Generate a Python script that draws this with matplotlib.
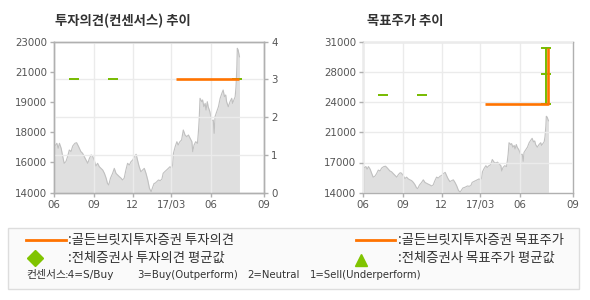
import matplotlib
matplotlib.use('Agg')
import matplotlib.pyplot as plt
import numpy as np
import pandas as pd
from matplotlib.lines import Line2D
from matplotlib.patches import Rectangle

plt.rcParams['font.family'] = ['Noto Sans CJK KR', 'DejaVu Sans']

# ---------------- data ----------------
start_date = '2016-06-01'
# days after start_date
price_days = [
    0, 6, 9, 12, 16, 19, 23, 27, 31, 35, 39, 43, 48, 52, 56, 62, 66, 70, 74, 78,
    82, 86, 89, 93, 97, 101, 105, 109, 113, 117, 121, 124, 127, 131, 136, 140, 144, 148,
    152, 156, 159, 163, 167, 171, 175, 179, 183, 187, 191, 195, 198, 202, 206, 210, 214,
    218, 222, 226, 230, 233, 235, 239, 243, 247, 251, 254, 258, 262, 266, 270, 274, 276,
    278, 282, 286, 289, 293, 297, 301, 305, 309, 313, 317, 321, 323, 326, 330, 334, 336,
    338, 340, 344, 346, 349, 352, 354, 357, 359, 363, 367, 371, 373, 375, 379, 383, 387,
    391, 394, 397, 400, 402, 406, 410, 414, 416, 419, 422, 424, 426, 427, 429, 432,
]
price_values = [
    16742, 16944, 16646, 16944, 16646, 16247, 15752, 15850, 16146, 16545, 16450, 16783,
    16944, 16980, 16783, 16450, 16350, 16146, 15950, 15752, 16050, 16247, 16200, 15950,
    15591, 15752, 15550, 15450, 15350, 15150, 14860, 14560, 14460, 14860, 15150, 15450,
    15150, 15050, 14950, 14860, 14760, 14860, 15350, 15752, 15650, 15850, 15950, 16146,
    16290, 15850, 15550, 15250, 15350, 15450, 15150, 14760, 14260, 14060, 14360, 14560,
    14560, 14655, 14757, 14720, 14800, 15157, 15260, 15353, 15450, 15550, 15450, 15650,
    16348, 16742, 17040, 16840, 17040, 17140, 17737, 17440, 17340, 17440, 17240, 17040,
    16444, 16840, 17040, 16940, 17540, 18333, 19626, 19424, 19528, 19126, 19325, 18929,
    19424, 19126, 18829, 18300, 18330, 17540, 18530, 18829, 19126, 19626, 19924, 20121,
    19725, 19825, 19424, 19126, 19424, 19626, 19325, 19528, 19722, 20318, 21510, 22607,
    22505, 22100,
]

# Golden Bridge investment opinion (right axis 0-4)
opinion_dates = ['2017-03-11', '2017-08-05']
opinion_values = [3, 3]
# all-broker average opinion
avg_opinion_dates = ['2016-07-18', '2016-10-16', '2017-08-01']
avg_opinion_values = [3, 3, 3]

# Golden Bridge target price
target_dates = ['2017-03-11', '2017-08-05', '2017-08-05']
target_values = [24000, 24000, 30300]
# all-broker average target price
avg_target_dates = ['2016-07-18', '2016-10-16']
avg_target_values = [25000, 25000]
avg_target_end_dates = ['2017-08-01', '2017-08-01', '2017-08-01']
avg_target_end_values = [24000, 27400, 30300]

x_tick_dates = ['2016-06-01', '2016-09-01', '2016-12-01', '2017-03-01', '2017-06-01', '2017-10-04']
x_tick_labels = ['06', '09', '12', '17/03', '06', '09']
x_range = ['2016-06-01', '2017-10-04']

left_price_labels = ['14000', '16000', '18000', '19000', '21000', '23000']
left_price_range = [14000, 23000]
opinion_ticks = [0, 1, 2, 3, 4]
right_price_labels = ['14000', '17000', '21000', '24000', '28000', '31000']
right_price_range = [14000, 31000]

titles = ['투자의견(컨센서스) 추이', '목표주가 추이']

# ---------------- style ----------------
W, H = 590, 300
ORANGE = '#ff7300'
GREEN = '#77bb00'
FILL = '#dfdfdf'
PLINE = '#c0c0c0'
GRID = '#ebebeb'
SPINE = '#b0b0b0'
TICKC = '#555555'

fig = plt.figure(figsize=(W / 100, H / 100), dpi=100)


def fr(x, y):
    return x / W, 1 - y / H


pd_price = pd.Timestamp(start_date) + pd.to_timedelta(price_days, unit='D')
xt = pd.to_datetime(x_tick_dates)
xr = pd.to_datetime(x_range)


def style_axes(ax):
    for s in ax.spines.values():
        s.set_color(SPINE)
        s.set_linewidth(1)
    ax.set_xlim(xr[0], xr[1])
    ax.set_xticks(xt)
    ax.set_xticklabels(x_tick_labels)
    ax.tick_params(axis='both', colors=SPINE, labelcolor=TICKC, labelsize=7.4, length=3,
                   width=1, labelfontfamily='DejaVu Sans')
    ax.tick_params(axis='x', pad=2)
    ax.tick_params(axis='y', pad=2)


def make_axes(left_px):
    l = left_px / W
    b = 1 - 192.7 / H
    return fig.add_axes([l, b, 210 / W, 151 / H])


# ---- left chart ----
ax = make_axes(54.3)
ax.set_axisbelow(False)
ax.fill_between(pd_price, price_values, left_price_range[0], color=FILL, lw=0, zorder=1)
ax.plot(pd_price, price_values, color=PLINE, lw=0.8, zorder=1.2)
ax.set_ylim(*left_price_range)
ax.set_yticks(np.linspace(left_price_range[0], left_price_range[1], len(left_price_labels)))
ax.set_yticklabels(left_price_labels)
style_axes(ax)
ax.grid(axis='x', color=GRID, lw=1, zorder=2.5)
ax.grid(axis='y', visible=False)

ax2 = ax.twinx()
ax2.set_ylim(opinion_ticks[0], opinion_ticks[-1])
ax2.set_yticks(opinion_ticks)
style_axes(ax2)
ax2.grid(axis='y', color=GRID, lw=1, zorder=0)
ax2.plot(pd.to_datetime(avg_opinion_dates), avg_opinion_values, ls='none', marker='_',
         ms=7, mew=1.4, color=GREEN, zorder=3)
ax2.plot(pd.to_datetime(opinion_dates), opinion_values, color=ORANGE, lw=1.9,
         solid_capstyle='butt', zorder=4)

# ---- right chart ----
bx = make_axes(363.3)
bx.set_axisbelow(False)
bx.fill_between(pd_price, price_values, right_price_range[0], color=FILL, lw=0, zorder=1)
bx.plot(pd_price, price_values, color=PLINE, lw=0.8, zorder=1.2)
bx.set_ylim(*right_price_range)
bx.set_yticks(np.linspace(right_price_range[0], right_price_range[1], len(right_price_labels)))
bx.set_yticklabels(right_price_labels)
style_axes(bx)
bx.grid(True, color=GRID, lw=1, zorder=2.5)
bx.plot(pd.to_datetime(avg_target_dates), avg_target_values, ls='none', marker='_',
        ms=7, mew=1.4, color=GREEN, zorder=3)
bx.plot(pd.to_datetime(avg_target_end_dates), avg_target_end_values, marker='_',
        ms=7, mew=1.4, lw=1.4, color=GREEN, zorder=3)
bx.plot(pd.to_datetime(target_dates), target_values, color=ORANGE, lw=1.9,
        solid_capstyle='butt', zorder=4)

# titles
fig.text(*fr(55, 20.7), titles[0], fontsize=9.6, fontweight='bold', color='#333333',
         ha='left', va='center')
fig.text(*fr(366.7, 20.7), titles[1], fontsize=9.6, fontweight='bold', color='#333333',
         ha='left', va='center')

# ---- legend box ----
x0, y0 = fr(8.3, 288.7)
x1, y1 = fr(579.3, 227.7)
fig.patches.append(Rectangle((x0, y0), x1 - x0, y1 - y0, transform=fig.transFigure,
                             facecolor='#fafafa', edgecolor='#dddddd', lw=1, zorder=0))

LT = '#333333'
LFS = 9.6
xa, ya = fr(26, 239.7)
xb, _ = fr(65.7, 239.7)
fig.add_artist(Line2D([xa, xb], [ya, ya], color=ORANGE, lw=2, transform=fig.transFigure))
fig.text(*fr(68, 239.7), ':골든브릿지투자증권 투자의견', fontsize=LFS, color=LT, va='center')

fig.add_artist(Line2D([35 / W], [1 - 258 / H], marker='D', ms=8, color='#80c400', ls='none',
                      transform=fig.transFigure))
fig.text(*fr(68, 258), ':전체증권사 투자의견 평균값', fontsize=LFS, color=LT, va='center')

xa, ya = fr(355.7, 239.7)
xb, _ = fr(395, 239.7)
fig.add_artist(Line2D([xa, xb], [ya, ya], color=ORANGE, lw=2, transform=fig.transFigure))
fig.text(*fr(398, 239.7), ':골든브릿지투자증권 목표주가', fontsize=LFS, color=LT, va='center')

fig.add_artist(Line2D([361 / W], [1 - 260 / H], marker='^', ms=9, color='#80c400', ls='none',
                      transform=fig.transFigure))
fig.text(*fr(398, 258), ':전체증권사 목표주가 평균값', fontsize=LFS, color=LT, va='center')

row3 = [(26.7, '컨센서스', 7.8, ['Noto Sans CJK KR']),
        (64.5, ':4=S/Buy', 7.6, ['DejaVu Sans']),
        (136.7, '3=Buy(Outperform)', 7.3, ['DejaVu Sans']),
        (247, '2=Neutral', 7.3, ['DejaVu Sans']),
        (310, '1=Sell(Underperform)', 7.3, ['DejaVu Sans'])]
for xx, tt, fs, fam in row3:
    fig.text(*fr(xx, 275.3), tt, fontsize=fs, color=LT, va='center', family=fam)

fig.savefig('out.png', dpi=100)
